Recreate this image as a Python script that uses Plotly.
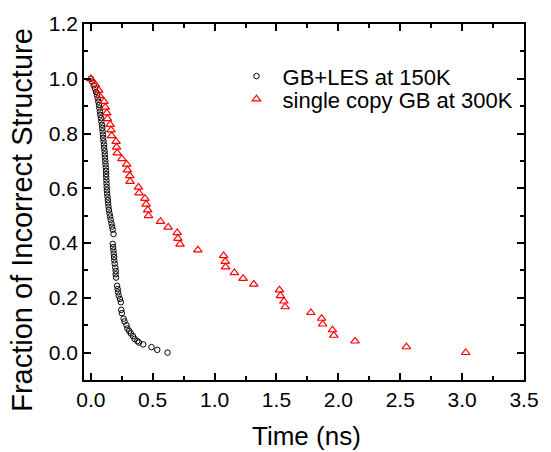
import plotly.graph_objects as go

# GB+LES at 150K (black open circles)
les_time = [0.0, 0.010, 0.024, 0.034, 0.042, 0.050, 0.056, 0.061, 0.066, 0.069,
            0.074, 0.077, 0.082, 0.085, 0.090, 0.093, 0.095, 0.098, 0.100, 0.103,
            0.106, 0.108, 0.111, 0.113, 0.115, 0.117, 0.119, 0.121, 0.123, 0.124,
            0.125, 0.126, 0.127, 0.128, 0.130, 0.132, 0.135, 0.138, 0.140, 0.143,
            0.146, 0.151, 0.156, 0.161, 0.167, 0.172, 0.177, 0.183,
            0.177, 0.180, 0.183, 0.185, 0.188, 0.190, 0.193, 0.198, 0.201, 0.201,
            0.204, 0.212, 0.217, 0.220, 0.225, 0.236, 0.243, 0.246, 0.251, 0.265,
            0.272, 0.288, 0.296, 0.310, 0.323, 0.341, 0.354, 0.376, 0.389, 0.423,
            0.490, 0.537, 0.620]
les_frac = [1.000, 0.990, 0.976, 0.964, 0.952, 0.940, 0.928, 0.916, 0.904, 0.892,
            0.880, 0.868, 0.856, 0.844, 0.832, 0.820, 0.808, 0.796, 0.784, 0.772,
            0.760, 0.748, 0.736, 0.724, 0.712, 0.700, 0.688, 0.676, 0.664, 0.652,
            0.641, 0.629, 0.617, 0.605, 0.593, 0.581, 0.569, 0.557, 0.545, 0.533,
            0.521, 0.508, 0.497, 0.485, 0.472, 0.460, 0.449, 0.433,
            0.397, 0.385, 0.373, 0.361, 0.349, 0.337, 0.325, 0.310, 0.298, 0.286,
            0.274, 0.244, 0.232, 0.220, 0.208, 0.196, 0.184, 0.156, 0.144, 0.124,
            0.114, 0.100, 0.088, 0.079, 0.070, 0.060, 0.050, 0.042, 0.037, 0.030,
            0.020, 0.010, 0.000]

# single copy GB at 300K (red open triangles)
gb_time = [0.000, 0.036, 0.064, 0.070, 0.107, 0.117, 0.129, 0.134, 0.156, 0.163,
           0.168, 0.204, 0.208, 0.213, 0.251, 0.290, 0.296, 0.315, 0.317, 0.385,
           0.390, 0.437, 0.447, 0.460, 0.466, 0.563, 0.625, 0.698, 0.704, 0.721,
           0.865, 1.073, 1.086, 1.089, 1.160, 1.230, 1.317, 1.524, 1.532, 1.560,
           1.570, 1.778, 1.865, 1.873, 1.952, 1.963, 2.135, 2.550, 3.029]
gb_frac = [1.000, 0.979, 0.958, 0.938, 0.917, 0.896, 0.875, 0.854, 0.833, 0.813,
           0.792, 0.771, 0.750, 0.729, 0.708, 0.688, 0.667, 0.646, 0.625, 0.604,
           0.583, 0.563, 0.542, 0.521, 0.500, 0.479, 0.458, 0.438, 0.417, 0.396,
           0.375, 0.354, 0.333, 0.313, 0.292, 0.271, 0.250, 0.229, 0.208, 0.188,
           0.167, 0.146, 0.125, 0.104, 0.083, 0.063, 0.042, 0.021, 0.000]

x_ticks = [0.0, 0.5, 1.0, 1.5, 2.0, 2.5, 3.0, 3.5]
y_ticks = [0.0, 0.2, 0.4, 0.6, 0.8, 1.0, 1.2]

FONT = "Liberation Sans, Arial"

fig = go.Figure()
fig.add_trace(go.Scatter(
    x=les_time, y=les_frac, mode="markers", name="GB+LES at 150K", legend="legend",
    showlegend=True,
    marker=dict(symbol="circle-open", size=5.5, color="black", line=dict(width=1, color="black"))))
fig.add_trace(go.Scatter(
    x=gb_time, y=gb_frac, mode="markers", name="single copy GB at 300K", legend="legend2",
    showlegend=True,
    marker=dict(symbol="triangle-up-open", size=7.5, color="red", line=dict(width=1.2, color="red"))))

axis_common = dict(
    showline=True, linecolor="black", linewidth=1.5, mirror="allticks",
    ticks="inside", ticklen=7, tickwidth=1.5, tickcolor="black",
    showgrid=False, zeroline=False,
    tickfont=dict(family=FONT, size=21, color="black"),
    minor=dict(ticks="inside", ticklen=4, tickwidth=1.5, tickcolor="black", showgrid=False),
)

fig.update_xaxes(
    range=[-0.055, 3.5], tickvals=x_ticks, ticktext=[f"{v:.1f}" for v in x_ticks],
    minor_dtick=0.25, minor_tick0=0,
    **axis_common)
fig.update_yaxes(
    range=[-0.1, 1.2], tickvals=y_ticks, ticktext=[f"{v:.1f}" for v in y_ticks],
    minor_dtick=0.1, minor_tick0=0,
    **axis_common)

fig.add_annotation(
    text="Time (ns)",
    xref="paper", yref="paper", x=0.505, y=-0.158, xanchor="center", yanchor="middle",
    showarrow=False, font=dict(family=FONT, size=26, color="black"))
fig.add_annotation(
    text="Fraction of Incorrect Structure", textangle=-90,
    xref="paper", yref="paper", x=-0.141, y=0.45, xanchor="center", yanchor="middle",
    showarrow=False, font=dict(family=FONT, size=29, color="black"))

leg_common = dict(xanchor="left", yanchor="middle", itemwidth=42,
                  font=dict(family=FONT, size=22, color="black"),
                  bgcolor="rgba(0,0,0,0)", borderwidth=0)
fig.update_layout(
    width=551, height=452,
    margin=dict(l=84, r=19, t=21, b=72),
    plot_bgcolor="white", paper_bgcolor="white",
    showlegend=True,
    legend=dict(x=0.333, y=0.853, **leg_common),
    legend2=dict(x=0.333, y=0.789, **leg_common),
)

fig.write_html("out.html")
